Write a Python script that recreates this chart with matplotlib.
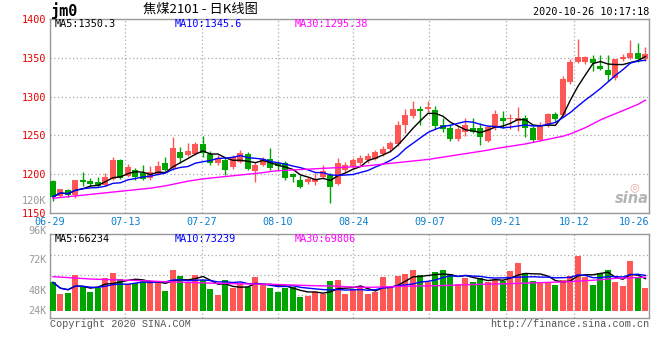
import numpy as np
import pandas as pd
import matplotlib
matplotlib.use('Agg')
import matplotlib.pyplot as plt

# daily candles jm2101, 06-29 .. 10-26
opens = [1191, 1172, 1180, 1173, 1192.5, 1191, 1190, 1186, 1194, 1218,
         1198, 1205, 1201, 1195, 1200, 1215, 1207.5, 1228.5, 1224.5, 1226,
         1238.5, 1225.5, 1214, 1218, 1209.5, 1216, 1226, 1204, 1212.5, 1219.5,
         1214, 1214, 1200, 1192.5, 1190, 1190, 1197, 1199, 1188, 1206,
         1210, 1215, 1218, 1220, 1226, 1232.5, 1239, 1263, 1275, 1284,
         1284, 1283, 1263, 1260, 1245, 1255, 1260, 1259, 1243, 1259,
         1273, 1271.5, 1269, 1273, 1260, 1244, 1263, 1277, 1276, 1319,
         1345, 1345, 1348.5, 1340, 1334, 1323.5, 1348, 1350, 1356, 1348]
closes = [1171, 1180.5, 1173, 1192.5, 1189.5, 1188, 1185, 1197, 1218, 1195,
          1209, 1197, 1194, 1202.5, 1211, 1206, 1234, 1221, 1229.5, 1238.5,
          1227, 1214, 1221, 1205, 1222.5, 1227.5, 1207, 1212.5, 1219, 1208,
          1211, 1195.5, 1197, 1184, 1194, 1194, 1204, 1184, 1214, 1212,
          1218, 1221, 1223, 1229, 1233, 1240, 1263, 1276, 1284, 1282,
          1287, 1262.5, 1258, 1245, 1258, 1263, 1255, 1247.5, 1261, 1277.5,
          1269, 1273, 1272, 1259, 1244, 1264, 1277, 1271, 1323, 1344,
          1351.5, 1351.5, 1343, 1336, 1328, 1348, 1351.5, 1356, 1348, 1355]
highs = [1192, 1181, 1181, 1193, 1202.5, 1195.5, 1196.5, 1201, 1222, 1220,
         1213, 1208, 1212, 1210, 1217.5, 1222.5, 1248, 1235.5, 1240, 1242,
         1249.5, 1230, 1224.5, 1220.5, 1224.5, 1231, 1229, 1216, 1222, 1234,
         1217, 1217, 1202, 1199, 1196, 1201, 1212, 1201, 1220.5, 1216,
         1221, 1225, 1227, 1231, 1236, 1243, 1268, 1284, 1294, 1288,
         1294, 1288, 1273, 1265, 1262, 1273, 1272, 1266, 1264, 1283,
         1281, 1278, 1286, 1276, 1262, 1267, 1279, 1280, 1326.5, 1349,
         1374, 1352, 1353.5, 1353.5, 1353.5, 1349, 1354.5, 1373, 1368.5, 1363.5]
lows = [1166, 1170, 1170, 1169, 1185, 1185, 1183, 1185, 1193, 1194,
        1196, 1193, 1192, 1193, 1199, 1204, 1206, 1214, 1223, 1225,
        1222.5, 1212, 1212, 1199, 1207, 1214, 1205, 1190, 1210, 1206,
        1205, 1193, 1190, 1182, 1188, 1186, 1195, 1163, 1186, 1203,
        1207, 1212, 1215, 1218, 1223, 1229, 1236, 1253, 1273, 1263,
        1280, 1258, 1255, 1243, 1243, 1249, 1253, 1237, 1241, 1257,
        1260, 1258, 1256, 1248, 1241, 1243, 1261, 1268, 1273.5, 1316,
        1343, 1342, 1333, 1334, 1320.5, 1322, 1346, 1348, 1345, 1346]
volumes = [59000, 34700, 37500, 74300, 48600, 39600, 46500, 68800, 79200, 66000,
           55600, 58300, 61800, 61800, 61800, 41700, 84700, 72900, 60400, 74300,
           63900, 45100, 32600, 63900, 47900, 54900, 48600, 70100, 53500, 47900,
           39600, 46500, 48600, 29200, 31300, 39600, 34000, 62500, 63900, 34700,
           45100, 51400, 34700, 39600, 70100, 48600, 72200, 77100, 84700, 74300,
           59000, 80600, 84700, 77100, 55600, 68800, 60400, 68800, 60400, 65300,
           62500, 82600, 100000, 77800, 61800, 60400, 60400, 53500, 63900, 72200,
           113900, 70800, 53500, 77800, 84700, 60400, 51400, 103500, 70800, 47900]
ma30 = [1169, 1170, 1171, 1172, 1173, 1174, 1175, 1176, 1177, 1178,
        1179, 1180, 1181, 1182, 1183.5, 1185, 1187, 1189, 1191, 1192.5,
        1194, 1195, 1196, 1197, 1198, 1199, 1200, 1201, 1202, 1203.5,
        1204.5, 1205, 1205.5, 1206, 1206.5, 1207, 1207.5, 1208, 1208.5, 1209,
        1209.5, 1210, 1211, 1212, 1213, 1214, 1215, 1216, 1217, 1218,
        1219, 1220.5, 1222, 1223.5, 1225, 1226.5, 1228, 1229.5, 1231, 1233,
        1234.5, 1236, 1237.5, 1239, 1241, 1243, 1245, 1247, 1249, 1252,
        1256, 1260, 1265, 1270, 1274, 1278, 1282, 1286, 1290, 1295.4]
vol_ma30 = [70800, 70000, 69000, 68000, 67000, 66000, 65500, 65000, 64500, 64000,
            63500, 63000, 62500, 62000, 61000, 60500, 60000, 59500, 59000, 58500,
            58000, 57500, 57000, 56800, 56500, 56000, 55800, 55500, 55200, 55000,
            54500, 54000, 53500, 53000, 52500, 52000, 51800, 51500, 51000, 50000,
            49500, 49000, 48800, 49000, 49500, 50000, 50500, 51000, 51300, 51500,
            51500, 52000, 52500, 53000, 53500, 54000, 54500, 55000, 55300, 55600,
            56000, 56500, 57000, 57500, 58000, 58500, 59000, 59500, 60000, 60400,
            61500, 62500, 63500, 64500, 66000, 67500, 68000, 68500, 69000, 69800]

date_labels = ['06-29', '07-13', '07-27', '08-10', '08-24', '09-07', '09-21', '10-12', '10-26']
price_ticks = [1150, 1200, 1250, 1300, 1350, 1400]

# layout (pixel based)
date_pos = [-0.4, 9.64, 19.83, 29.96, 40.04, 50.17, 60.36, 69.51, 79.47]
vol_grid = [115400, 74400, 32100]
W, H = 660, 360
RED = '#ff5656'
GREEN = '#00a400'
GRID = '#aaaaaa'
MONO = 'DejaVu Sans Mono'


def box(l, t, r, b):
    return [l / W, 1 - b / H, (r - l) / W, (b - t) / H]


def ftext(x, y, s, **kw):
    fig.text(x / W, 1 - y / H, s, **kw)


o = np.array(opens)
c = np.array(closes)
hi = np.array(highs)
lo = np.array(lows)
v = np.array(volumes)
x = np.arange(len(o))
up = c >= o
cols = np.where(up, RED, GREEN)

ma5 = pd.Series(c).rolling(5, min_periods=1).mean()
ma10 = pd.Series(c).rolling(10, min_periods=1).mean()
vma5 = pd.Series(v).rolling(5, min_periods=1).mean()
vma10 = pd.Series(v).rolling(10, min_periods=1).mean()

fig = plt.figure(figsize=(6.6, 3.6), dpi=100)
ax = fig.add_axes(box(50, 19, 649, 213))
axv = fig.add_axes(box(50, 234.3, 649, 318.3))

# price panel
body_lo = np.minimum(o, c)
body_h = np.maximum(np.abs(c - o), 0.8)
ax.vlines(x, lo, hi, colors=cols, lw=1, zorder=3)
ax.bar(x, body_h, bottom=body_lo, width=0.8, color=cols, zorder=4)
ax.plot(x, ma5, color='black', lw=1, zorder=5)
ax.plot(x, ma10, color='#0000ff', lw=1, zorder=5)
ax.plot(x, ma30, color='#ff00ff', lw=1, zorder=5)
ax.set_xlim(-0.4, 79.47)
ax.set_ylim(1150, 1400)
ax.set_yticks(price_ticks)
ax.set_yticklabels([str(t) for t in price_ticks], color='#e60000',
                   fontfamily=MONO, fontsize=7.3)
ax.set_xticks(date_pos)
ax.set_xticklabels(date_labels, color='#0a7fd0', fontfamily=MONO, fontsize=7.3)
ax.get_xticklabels()[-1].set_horizontalalignment('right')
ax.tick_params(length=0, pad=3)
ax.grid(True, color=GRID, ls=(0, (1, 2)), lw=0.9)

# volume panel
axv.bar(x, v, width=0.8, color=cols, zorder=3)
axv.plot(x, vma5, color='black', lw=1, zorder=4)
axv.plot(x, vma10, color='#0000ff', lw=1, zorder=4)
axv.plot(x, vol_ma30, color='#ff00ff', lw=1, zorder=4)
axv.set_xlim(-0.4, 79.47)
axv.set_ylim(-15830, 159200)
axv.set_xticks(date_pos)
axv.set_yticks(vol_grid)
axv.set_xticklabels([])
axv.set_yticklabels([])
axv.tick_params(length=0)
axv.grid(True, color=GRID, ls=(0, (1, 2)), lw=0.9)

for a in (ax, axv):
    for s in a.spines.values():
        s.set_color('#999999')
        s.set_linewidth(1)

# texts
ftext(51, 11, 'jm0', fontfamily=MONO, fontweight='bold', fontsize=11, va='center')
ftext(200, 9, '焦煤2101 - 日K线图', family=['Noto Sans CJK SC', 'DejaVu Sans'],
      fontsize=9.5, ha='center', va='center')
ftext(649, 12, '2020-10-26 10:17:18', fontfamily=MONO, fontsize=7.3, ha='right', va='center')
ftext(55, 24, 'MA5:1350.3', fontfamily=MONO, fontsize=7.3, color='black', va='center')
ftext(175, 24, 'MA10:1345.6', fontfamily=MONO, fontsize=7.3, color='#0000ff', va='center')
ftext(295, 24, 'MA30:1295.38', fontfamily=MONO, fontsize=7.3, color='#ff00ff', va='center')
ftext(55, 239, 'MA5:66234', fontfamily=MONO, fontsize=7.3, color='black', va='center')
ftext(175, 239, 'MA10:73239', fontfamily=MONO, fontsize=7.3, color='#0000ff', va='center')
ftext(295, 239, 'MA30:69806', fontfamily=MONO, fontsize=7.3, color='#ff00ff', va='center')
for lab, yy in [('120K', 201), ('96K', 230.7), ('72K', 260), ('48K', 291), ('24K', 310.7)]:
    ftext(46.5, yy, lab, fontfamily=MONO, fontsize=7.3, color='#999999', ha='right', va='center')
ftext(50, 324, 'Copyright 2020 SINA.COM', fontfamily='Liberation Mono', fontsize=7.3,
      color='#555555', va='center')
ftext(649, 324, 'http://finance.sina.com.cn', fontfamily='Liberation Mono', fontsize=7.3,
      color='#555555', ha='right', va='center')
ftext(632, 198, 'sina', fontsize=10.5, fontweight='bold', style='italic', color='#b4b4b4',
      ha='center', va='center')
ftext(634, 187, '◎', fontsize=8, color='#f2a0a0', ha='center', va='center')

fig.savefig('out.png', dpi=100)
